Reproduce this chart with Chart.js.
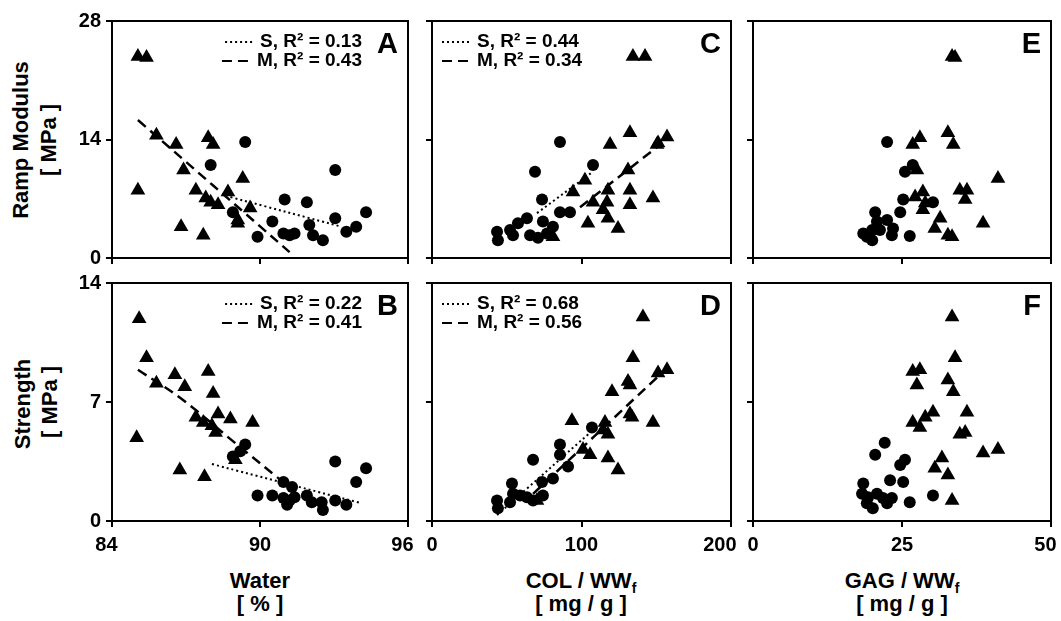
<!DOCTYPE html>
<html>
<head>
<meta charset="utf-8">
<script src="https://cdn.jsdelivr.net/npm/chart.js@4"></script>
<style>
  body { margin: 0; background: #fff; }
  #wrap { position: relative; width: 1061px; height: 621px; overflow: hidden; font-family: "Liberation Sans", Arial, sans-serif; }
  canvas { position: absolute; left: 0; top: 0; }
  .lbl { position: absolute; font-weight: bold; font-size: 22px; color: #000; white-space: nowrap; transform: translate(-50%, -50%); line-height: 22px; }
  .rot { transform: translate(-50%, -50%) rotate(-90deg); }
  sub { font-size: 14px; vertical-align: -5px; line-height: 0; }
</style>
</head>
<body>
<div id="wrap">
  <div class="lbl rot" style="left:21px; top:140px">Ramp Modulus</div>
  <div class="lbl rot" style="left:49px; top:140px">[ MPa ]</div>
  <div class="lbl rot" style="left:23px; top:404px">Strength</div>
  <div class="lbl rot" style="left:50px; top:402px">[ MPa ]</div>
  <div class="lbl" style="left:260px; top:581px">Water</div>
  <div class="lbl" style="left:260px; top:604px">[ % ]</div>
  <div class="lbl" style="left:581px; top:581px">COL / WW<sub>f</sub></div>
  <div class="lbl" style="left:581px; top:604px">[ mg / g ]</div>
  <div class="lbl" style="left:902px; top:581px">GAG / WW<sub>f</sub></div>
  <div class="lbl" style="left:902px; top:604px">[ mg / g ]</div>
</div>
<script>
// tick labels
const waterTicks = [84, 90, 96];
const colTicks = [0, 100, 200];
const gagTicks = [0, 25, 50];
const modulusTicks = [0, 14, 28];
const strengthTicks = [0, 7, 14];

// A: ramp modulus vs water
const A_S = [[89.4,13.7],[88.0,11.0],[88.9,5.4],[89.9,2.5],[90.5,4.3],[91.0,6.9],[90.95,2.9],[91.2,2.7],[91.4,2.9],[91.9,6.6],[92.0,3.9],[92.15,2.7],[92.55,2.1],[93.05,10.4],[93.05,4.7],[93.5,3.1],[93.9,3.7],[94.3,5.4]];
const A_M = [[85.05,23.8],[85.4,23.7],[85.05,8.0],[85.8,14.5],[86.6,13.4],[86.9,10.4],[86.8,3.7],[87.4,8.0],[87.7,2.7],[87.8,7.1],[87.9,14.2],[88.1,13.4],[88.0,6.6],[88.3,6.3],[88.7,7.8],[89.1,4.5],[89.1,4.1],[89.3,9.4],[89.6,5.9]];
const A_fitS = [[88.8,7.2],[93.3,3.7]];
const A_fitM = [[85.05,16.3],[91.2,0.7]];

// B: strength vs water
const B_S = [[88.9,3.8],[89.4,4.5],[89.2,4.1],[89.9,1.5],[90.5,1.5],[90.95,1.35],[91.1,0.95],[91.2,1.2],[90.95,2.3],[91.3,2.0],[91.4,1.4],[91.9,1.5],[92.1,1.1],[92.5,1.1],[92.55,0.65],[93.05,3.5],[93.05,1.2],[93.5,0.95],[93.9,2.3],[94.3,3.1]];
const B_M = [[85.1,11.9],[85.4,9.6],[85.0,4.9],[85.8,8.1],[86.55,8.6],[86.95,7.9],[86.75,3.0],[87.4,6.1],[87.7,5.8],[87.75,2.6],[87.9,8.8],[88.1,7.5],[88.05,5.6],[88.2,5.2],[88.3,6.3],[88.8,6.0],[89.7,5.8],[89.0,3.6]];
const B_fitS = [[88.05,3.35],[94.1,1.05]];
const B_fitM = [[85.05,8.9],[86.8,7.2],[88.9,4.7],[91.35,1.8]];

// C: ramp modulus vs COL
const C_S = [[85.6,13.7],[68.9,10.2],[107.7,11.0],[73.6,6.9],[85.6,5.4],[92.3,5.4],[63.5,4.7],[57.5,4.1],[52.2,3.3],[43.5,3.1],[44.1,2.1],[54.2,2.7],[74.2,4.3],[65.6,2.7],[70.9,2.4],[80.9,3.7],[76.9,2.9]];
const C_M = [[134.4,23.8],[142.5,23.8],[132.4,14.8],[119.1,13.4],[151.2,13.6],[157.2,14.3],[150.5,13.4],[102.3,9.2],[131.1,10.4],[94.3,7.8],[107.7,6.6],[117.7,8.0],[117.1,6.6],[132.4,8.0],[147.8,7.1],[132.4,6.3],[114.4,5.7],[117.7,4.7],[104.3,4.1],[124.4,3.5],[80.9,2.5]];
const C_fitS = [[70.2,5.3],[107.7,10.2]];
const C_fitM = [[99,6.0],[150.5,13.1]];

// D: strength vs COL
const D_S = [[107.0,5.5],[85.6,4.5],[85.6,3.9],[67.6,3.6],[91.0,3.2],[80.9,2.5],[73.6,2.3],[53.5,2.2],[54.2,1.6],[52.2,1.1],[43.5,1.2],[44.1,0.75],[63.5,1.4],[74.2,1.5],[67.6,1.2],[58.9,1.5]];
const D_M = [[141.1,12.0],[134.4,9.6],[131.1,8.2],[132.4,8.0],[120.4,7.6],[151.2,8.7],[157.2,8.9],[93.6,5.9],[132.4,6.3],[133.8,6.1],[147.8,5.8],[115.7,5.8],[114.4,5.35],[117.7,5.1],[101.0,4.2],[105.7,3.9],[117.7,3.7],[124.4,3.0],[70.2,1.2]];
const D_fitS = [[43.5,0.35],[107.7,5.35]];
const D_fitM = [[67.6,1.6],[151.2,8.5]];

// E: ramp modulus vs GAG
const E_S = [[22.5,13.7],[25.5,10.2],[26.8,11.0],[25.2,6.9],[30.2,6.6],[24.7,5.4],[20.5,5.4],[22.5,4.5],[20.8,4.3],[23.5,3.5],[18.5,2.9],[20.0,3.3],[21.3,3.3],[20.0,2.1],[23.3,2.7],[26.3,2.6],[19.1,2.5]];
const E_M = [[33.4,23.8],[33.9,23.7],[28.0,14.2],[26.8,13.4],[32.7,14.8],[33.6,13.4],[27.5,10.4],[41.1,9.4],[34.7,8.0],[35.9,8.0],[35.6,6.9],[28.5,7.8],[27.2,7.2],[28.9,6.5],[28.5,5.7],[31.4,4.7],[30.5,3.5],[38.6,4.1],[32.7,2.7],[33.4,2.5]];

// F: strength vs GAG
const F_S = [[22.1,4.6],[20.5,3.9],[25.5,3.6],[24.7,3.3],[23.0,2.4],[25.2,2.3],[18.5,2.2],[18.3,1.6],[19.3,1.4],[20.8,1.6],[21.8,1.35],[23.3,1.35],[22.5,1.05],[19.1,1.05],[20.1,0.75],[26.3,1.1],[30.2,1.5]];
const F_M = [[33.4,12.0],[33.9,9.6],[26.8,8.8],[28.0,8.9],[27.5,8.0],[32.7,8.3],[33.6,7.6],[35.9,6.4],[30.2,6.4],[28.9,6.1],[26.8,5.8],[28.0,5.5],[35.6,5.2],[34.7,5.1],[38.6,4.0],[41.1,4.2],[31.7,3.7],[30.5,3.1],[32.7,2.7],[33.4,1.2]];

// legend R² values
const r2 = { A: ['0.13','0.43'], B: ['0.22','0.41'], C: ['0.44','0.34'], D: ['0.68','0.56'] };

const FONT = '"Liberation Sans", Arial, sans-serif';
const W = 1061, H = 621;
const FS = '\u2007';
const toXY = arr => arr.map(p => ({x: p[0], y: p[1]}));

const frame = {
  id: 'frame',
  afterDraw(chart, args, o) {
    const ctx = chart.ctx, a = chart.chartArea;
    ctx.save();
    ctx.strokeStyle = '#000';
    ctx.lineWidth = 2;
    ctx.strokeRect(a.left, a.top, a.right - a.left, a.bottom - a.top);
    ctx.fillStyle = '#000';
    ctx.font = 'bold 29px ' + FONT;
    ctx.textAlign = 'right';
    ctx.textBaseline = 'alphabetic';
    ctx.fillText(o.letter, a.right - 10, a.top + 32);
    if (o.r2) {
      ctx.font = 'bold 19px ' + FONT;
      ctx.textBaseline = 'middle';
      const rows = [['S, R² = ' + o.r2[0], [2, 3]], ['M, R² = ' + o.r2[1], [10, 6]]];
      rows.forEach((r, i) => {
        const y = a.top + 21 + i * 19;
        let tx;
        if (o.side === 'right') {
          const w = ctx.measureText(r[0]).width;
          tx = a.right - 46 - w;
        } else {
          tx = a.left + 45;
        }
        ctx.textAlign = 'left';
        ctx.fillText(r[0], tx, y);
        ctx.beginPath();
        ctx.setLineDash(r[1]);
        ctx.lineWidth = 2;
        ctx.moveTo(tx - 35, y);
        ctx.lineTo(tx - 5, y);
        ctx.stroke();
        ctx.setLineDash([]);
      });
    }
    ctx.restore();
  }
};

function axis(t, showLabels, isX, pad) {
  return {
    type: 'linear', min: t[0], max: t[2],
    ticks: { stepSize: t[1] - t[0], display: showLabels, color: '#000', padding: isX ? 6 : 5,
             font: { family: FONT, size: 20, weight: 'bold' }, autoSkip: false, maxRotation: 0,
             // nudge edge labels left like the original
             callback: v => v + (pad && pad[t.indexOf(v)] ? FS.repeat(pad[t.indexOf(v)]) : '') },
    grid: { drawOnChartArea: false, drawTicks: true, tickLength: 6, color: '#000', lineWidth: 2 },
    border: { display: true, color: '#000', width: 2 },
    afterFit: s => {
      if (isX) s.height = 36; else s.width = 42;
      // keep the plot box where it is, labels may overhang
      s.paddingLeft = 0; s.paddingRight = 0; s.paddingTop = 0; s.paddingBottom = 0;
    }
  };
}

function panel(p) {
  const cv = document.createElement('canvas');
  cv.width = W; cv.height = H;
  document.getElementById('wrap').appendChild(cv);
  const ds = [
    { data: toXY(p.S), pointStyle: 'circle', pointRadius: 6, backgroundColor: '#000', borderColor: '#000', borderWidth: 0 },
    { data: toXY(p.M), pointStyle: 'triangle', pointRadius: 8.5, backgroundColor: '#000', borderColor: '#000', borderWidth: 0 }
  ];
  if (p.fitS) {
    ds.push({ data: toXY(p.fitS), showLine: true, pointRadius: 0, borderColor: '#000', borderWidth: 2, borderDash: [2, 3], tension: 0.4 });
    ds.push({ data: toXY(p.fitM), showLine: true, pointRadius: 0, borderColor: '#000', borderWidth: 2.5, borderDash: [10, 6], tension: 0.4 });
  }
  new Chart(cv, {
    type: 'scatter',
    data: { datasets: ds },
    options: {
      responsive: false, animation: false, events: [],
      layout: { padding: { left: p.left - 42, top: p.top, right: W - p.right, bottom: H - p.bottom - 36 } },
      plugins: { legend: { display: false }, tooltip: { enabled: false },
                 frame: { letter: p.letter, r2: r2[p.letter], side: p.side } },
      scales: {
        x: axis(p.xt, p.showX, true, p.xpad),
        y: axis(p.yt, p.showY, false, null)
      }
    },
    plugins: [frame]
  });
}

const top1 = 21, bot1 = 258, top2 = 283, bot2 = 521;
panel({ letter: 'A', S: A_S, M: A_M, fitS: A_fitS, fitM: A_fitM, xt: waterTicks, yt: modulusTicks, left: 112, right: 408, top: top1, bottom: bot1, showX: false, showY: true, side: 'right' });
panel({ letter: 'B', S: B_S, M: B_M, fitS: B_fitS, fitM: B_fitM, xt: waterTicks, yt: strengthTicks, left: 112, right: 408, top: top2, bottom: bot2, showX: true, showY: true, side: 'right', xpad: [1, 0, 1] });
panel({ letter: 'C', S: C_S, M: C_M, fitS: C_fitS, fitM: C_fitM, xt: colTicks, yt: modulusTicks, left: 432, right: 731, top: top1, bottom: bot1, showX: false, showY: false, side: 'left' });
panel({ letter: 'D', S: D_S, M: D_M, fitS: D_fitS, fitM: D_fitM, xt: colTicks, yt: strengthTicks, left: 432, right: 731, top: top2, bottom: bot2, showX: true, showY: false, side: 'left', xpad: [0, 0, 2] });
panel({ letter: 'E', S: E_S, M: E_M, xt: gagTicks, yt: modulusTicks, left: 753, right: 1051, top: top1, bottom: bot1, showX: false, showY: false });
panel({ letter: 'F', S: F_S, M: F_M, xt: gagTicks, yt: strengthTicks, left: 753, right: 1051, top: top2, bottom: bot2, showX: true, showY: false, xpad: [0, 0, 1] });
</script>
</body>
</html>
